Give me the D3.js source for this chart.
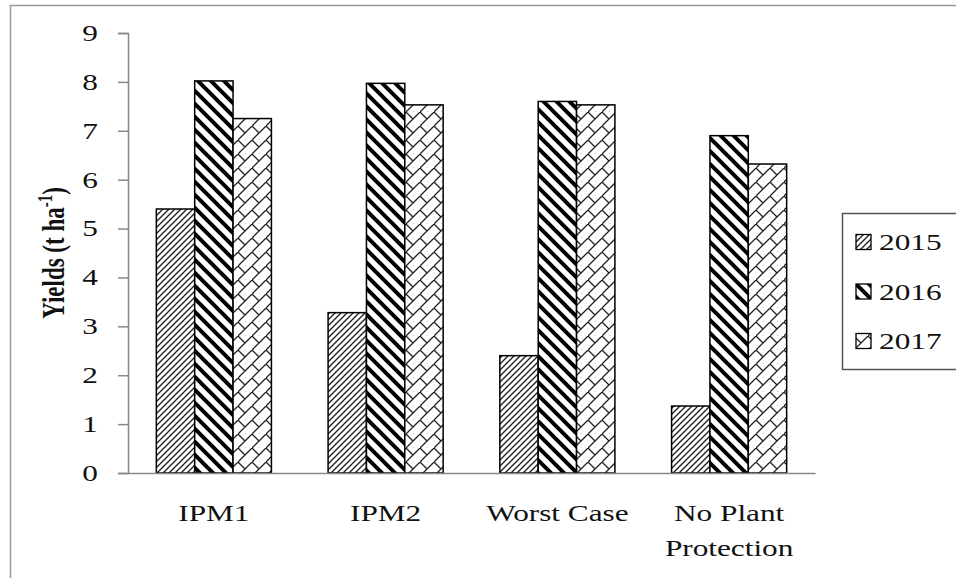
<!DOCTYPE html>
<html>
<head>
<meta charset="utf-8">
<script src="https://cdn.jsdelivr.net/npm/d3@7"></script>
<style>
	body { margin: 0; background: #fff; }
	svg { display: block; font-family: "Liberation Serif", "Times New Roman", Times, serif; }
</style>
</head>
<body>
<script>
const categories = ["IPM1", "IPM2", "Worst Case", "No Plant Protection"];
const years = ["2015", "2016", "2017"];
const yields2015 = [5.4, 3.28, 2.4, 1.37];
const yields2016 = [8.02, 7.97, 7.6, 6.9];
const yields2017 = [7.25, 7.53, 7.53, 6.32];
const yTicks = [0, 1, 2, 3, 4, 5, 6, 7, 8, 9];

const series = [yields2015, yields2016, yields2017];

const width = 956, height = 578;
const margin = ({ top: 33, right: 141, bottom: 105, left: 128 });
// the original picture is stretched sideways, text too
const sx = 1.36;

const svg = d3.select("body").append("svg")
	.attr("width", width)
	.attr("height", height);

// fill patterns, one for each year
const defs = svg.append("defs");

const p15 = defs.append("pattern")
	.attr("id", "p2015")
	.attr("patternUnits", "userSpaceOnUse")
	.attr("width", 6).attr("height", 6);
p15.append("rect").attr("width", 6).attr("height", 6).attr("fill", "#fff");
p15.append("path")
	.attr("d", "M-1,7 L7,-1 M-4,4 L4,-4 M2,10 L10,2")
	.attr("stroke", "#222")
	.attr("stroke-width", 1.4);

const p16 = defs.append("pattern")
	.attr("id", "p2016")
	.attr("patternUnits", "userSpaceOnUse")
	.attr("width", 13).attr("height", 13);
p16.append("rect").attr("width", 13).attr("height", 13).attr("fill", "#fff");
p16.append("path")
	.attr("d", "M-2,-2 L15,15 M-8,5 L8,21 M5,-8 L21,8")
	.attr("stroke", "#000")
	.attr("stroke-width", 4);

const p17 = defs.append("pattern")
	.attr("id", "p2017")
	.attr("patternUnits", "userSpaceOnUse")
	.attr("width", 14).attr("height", 14);
p17.append("rect").attr("width", 14).attr("height", 14).attr("fill", "#fff");
p17.append("path")
	.attr("d", "M-1,15 L15,-1 M0,0 L7,7 M7,14 L14,21")
	.attr("stroke", "#222")
	.attr("stroke-width", 1.3)
	.attr("fill", "none");

const patterns = ["url(#p2015)", "url(#p2016)", "url(#p2017)"];

// outer frame
svg.append("rect")
	.attr("x", 10.5).attr("y", 5.5)
	.attr("width", 960).attr("height", 600)
	.attr("fill", "none")
	.attr("stroke", "#999")
	.attr("stroke-width", 1.5);

const x = d3.scaleBand()
	.domain(categories)
	.range([margin.left, width - margin.right])
	.paddingInner(0.33)
	.paddingOuter(0.165);

const xs = d3.scaleBand()
	.domain(years)
	.range([0, x.bandwidth()]);

const y = d3.scaleLinear()
	.domain([0, 9])
	.range([height - margin.bottom, margin.top]);

const rows = categories.flatMap((c, i) =>
	years.map((yr, j) => ({ cat: c, year: yr, value: series[j][i], fill: patterns[j] })));

svg.append("g")
	.selectAll("rect")
	.data(rows)
	.enter()
	.append("rect")
	.attr("x", d => x(d.cat) + xs(d.year))
	.attr("y", d => y(d.value))
	.attr("width", xs.bandwidth())
	.attr("height", d => y(0) - y(d.value))
	.attr("fill", d => d.fill)
	.attr("stroke", "#000")
	.attr("stroke-width", 1.5);

// y axis
const yAxis = svg.append("g")
	.attr("transform", `translate(${margin.left},0)`)
	.call(d3.axisLeft(y).tickValues(yTicks).tickSize(10).tickFormat(d3.format("d")));
yAxis.attr("font-family", null);
yAxis.select(".domain").attr("stroke", "#888").attr("stroke-width", 1.5);
yAxis.selectAll(".tick line").attr("stroke", "#888").attr("stroke-width", 1.5);
yAxis.selectAll(".tick text")
	.attr("x", null)
	.attr("transform", `translate(-30,0) scale(${sx},1)`)
	.attr("font-size", 23)
	.attr("fill", "#111");

// x axis
const xAxis = svg.append("g")
	.attr("transform", `translate(0,${y(0)})`)
	.call(d3.axisBottom(x).tickSize(0).tickFormat(""));
xAxis.select(".domain").attr("stroke", "#888").attr("stroke-width", 1.5);

const xLabels = {
	"IPM1": ["IPM1"],
	"IPM2": ["IPM2"],
	"Worst Case": ["Worst Case"],
	"No Plant Protection": ["No Plant", "Protection"]
};

svg.append("g")
	.selectAll("text")
	.data(categories)
	.enter()
	.append("text")
	.attr("transform", d => `translate(${x(d) + x.bandwidth() / 2},${y(0) + 48}) scale(${sx},1)`)
	.attr("text-anchor", "middle")
	.attr("font-size", 23)
	.attr("fill", "#111")
	.selectAll("tspan")
	.data(d => xLabels[d])
	.enter()
	.append("tspan")
	.attr("x", 0)
	.attr("dy", (d, i) => i === 0 ? 0 : 35)
	.text(d => d);

// y label
const yl = svg.append("text")
	.attr("transform", `translate(64,${(y(0) + y(9)) / 2}) scale(${sx},1) rotate(-90)`)
	.attr("text-anchor", "middle")
	.attr("font-size", 23)
	.attr("font-weight", "bold")
	.attr("fill", "#111");
yl.append("tspan").text("Yields  (t ha");
yl.append("tspan").attr("font-size", 15).attr("dy", -9).text("-1");
yl.append("tspan").attr("dy", 9).text(")");

// legend
const legend = svg.append("g");
legend.append("rect")
	.attr("x", 842.5).attr("y", 213.5)
	.attr("width", 130).attr("height", 156)
	.attr("fill", "#fff")
	.attr("stroke", "#555")
	.attr("stroke-width", 1.5);

const ly = d3.scalePoint()
	.domain(years)
	.range([242, 341]);

const lg = legend.selectAll("g.item")
	.data(years)
	.enter()
	.append("g")
	.attr("class", "item");

lg.append("rect")
	.attr("x", 856)
	.attr("y", d => ly(d) - 7.5)
	.attr("width", 15)
	.attr("height", 15)
	.attr("fill", (d, i) => patterns[i])
	.attr("stroke", "#000")
	.attr("stroke-width", 1.3);

lg.append("text")
	.attr("transform", d => `translate(879,${ly(d)}) scale(${sx},1)`)
	.attr("dy", "0.35em")
	.attr("font-size", 23)
	.attr("fill", "#111")
	.text(d => d);
</script>
</body>
</html>
